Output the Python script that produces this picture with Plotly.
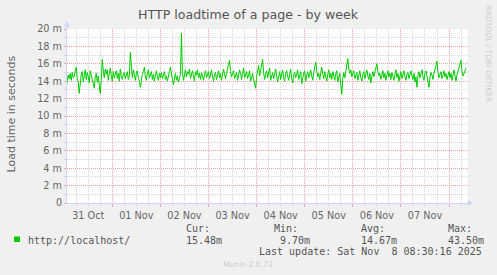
import plotly.graph_objects as go
import pandas as pd

# ---------------- data ----------------
chart_title = "HTTP loadtime of a page - by week"
y_axis_title = "Load time in seconds"
series_name = "http://localhost/"
series_start = "2025-10-31 01:00"      # first sample (30-minute samples)
x_range = ["2025-10-31 01:24", "2025-11-08 09:28"]
day_tick0 = "2025-10-31 00:00"

# load time in milliseconds, one value per 30 minutes
load_ms = [
    13.3, 14.2, 14.7, 14.3, 14.9, 14.1, 15.0, 14.4, 14.6, 15.2, 15.6, 14.3, 13.9, 12.6, 14.1, 14.8, 15.1, 13.9, 14.7, 15.3,
    14.2, 15.0, 14.5, 13.8, 15.2, 14.6, 14.1, 13.7, 13.2, 14.5, 14.9, 13.9, 14.6, 13.5, 12.6, 14.2, 16.5, 15.2, 14.4, 15.4,
    14.8, 15.3, 14.1, 14.9, 15.5, 14.6, 14.0, 15.1, 14.4, 14.8, 15.2, 14.3, 14.9, 14.0, 15.4, 14.5, 14.2, 14.8, 15.0, 14.3,
    14.7, 15.1, 14.2, 14.6, 17.3, 15.0, 14.4, 15.3, 14.6, 14.1, 14.9, 15.2, 14.3, 14.0, 13.3, 14.2, 14.8, 15.1, 15.6, 14.5,
    14.1, 14.9, 15.3, 14.4, 14.7, 15.1, 14.2, 14.8, 14.0, 14.6, 15.2, 14.5, 14.1, 14.9, 14.4, 15.0, 14.3, 14.7, 15.1, 14.2,
    14.6, 14.0, 14.8, 15.1, 15.6, 14.7, 14.2, 13.6, 14.4, 14.9, 14.1, 14.6, 13.9, 14.3, 14.8, 19.5, 15.0, 14.1, 14.7, 15.3,
    14.5, 15.1, 14.8, 15.4, 14.3, 14.9, 15.2, 14.6, 14.0, 15.1, 14.7, 15.3, 14.4, 14.9, 14.2, 15.0, 14.6, 14.1, 14.8, 15.2,
    14.4, 14.9, 15.1, 14.3, 14.7, 15.3, 14.5, 14.0, 14.8, 15.0, 14.2, 14.6, 15.2, 14.4, 14.9, 14.1, 14.7, 15.4, 14.8, 14.3,
    14.9, 15.3, 15.8, 16.4, 15.1, 14.5, 14.9, 15.2, 14.3, 14.7, 15.0, 14.1, 14.6, 15.3, 14.8, 14.2, 14.9, 15.5, 14.4, 14.8,
    15.1, 14.3, 14.7, 15.2, 14.0, 14.6, 14.9, 14.2, 13.8, 13.2, 14.5, 15.1, 15.8, 14.6, 15.3, 15.9, 16.5, 15.0, 14.2, 14.8,
    15.2, 14.4, 14.9, 15.5, 14.1, 14.7, 15.0, 14.3, 14.8, 15.4, 14.6, 13.9, 14.5, 15.1, 14.2, 14.8, 15.3, 14.4, 14.0, 14.9,
    15.2, 14.6, 14.1, 14.8, 15.4, 14.3, 13.8, 14.7, 15.0, 14.4, 14.9, 15.3, 14.2, 14.6, 15.1, 13.7, 14.5, 14.9, 15.2, 14.0,
    14.7, 15.1, 14.4, 14.9, 15.3, 14.6, 14.1, 15.0, 15.7, 16.2, 15.2, 14.5, 14.9, 14.2, 15.0, 15.6, 14.8, 14.3, 15.1, 14.6,
    14.0, 14.8, 15.3, 14.4, 14.9, 14.2, 15.1, 14.6, 14.1, 14.8, 15.2, 13.9, 14.5, 14.9, 13.6, 12.5, 14.3, 15.0, 14.4, 15.3,
    15.8, 16.6, 15.4, 14.9, 15.3, 14.5, 14.9, 15.2, 14.3, 14.8, 15.0, 14.1, 14.7, 15.2, 14.4, 14.0, 14.8, 15.1, 14.3, 14.7,
    15.3, 14.6, 14.2, 14.9, 13.8, 14.6, 15.1, 14.5, 15.0, 15.4, 16.0, 15.1, 14.6, 14.9, 14.2, 14.7, 15.2, 14.4, 14.9, 14.1,
    14.7, 15.2, 14.5, 14.9, 14.2, 15.0, 14.6, 14.1, 14.8, 15.3, 14.4, 14.9, 14.0, 14.7, 15.1, 14.3, 14.8, 15.2, 14.5, 14.1,
    14.8, 15.0, 14.3, 14.7, 15.2, 14.6, 14.2, 14.9, 13.9, 14.5, 13.3, 14.6, 15.1, 14.4, 14.8, 15.3, 14.5, 14.1, 14.9, 15.2,
    14.6, 14.0, 13.3, 14.5, 15.0, 14.7, 14.2, 14.9, 15.3, 15.8, 16.3, 15.0, 14.4, 14.8, 15.1, 14.3, 14.7, 15.2, 14.5, 14.9,
    14.2, 14.8, 15.1, 14.4, 14.9, 14.1, 14.7, 15.3, 14.6, 14.0, 14.8, 15.2, 15.6, 15.9, 16.4, 15.1, 14.6, 14.9, 15.2, 15.5,
]

y_major_ms = [0, 2, 4, 6, 8, 10, 12, 14, 16, 18, 20]
y_major_text = ["0", "2 m", "4 m", "6 m", "8 m", "10 m", "12 m", "14 m", "16 m", "18 m", "20 m"]
y_minor_ms = [1, 3, 5, 7, 9, 11, 13, 15, 17, 19]

legend_heads = ["Cur:", "Min:", "Avg:", "Max:"]
legend_values = ["15.48m", "9.70m", "14.67m", "43.50m"]
last_update = "Last update: Sat Nov  8 08:30:16 2025"
footer = "Munin 2.0.73"
watermark = "RRDTOOL / TOBI OETIKER"

# ---------------- style / layout ----------------
W, H = 497, 275
L, R, T, B = 67, 29, 29, 72
PW, PH = W - L - R, H - T - B
PB = H - B


def px2x(px):
    return (px - L) / PW


def py2y(py):
    return (PB - py) / PH


LINE_GREEN = "#00CC00"
AXIS_BLUE = "#CFD6F8"
MGRID = "#F2A3A3"
GRID = "#D6D6D6"
FONT = "#666666"
SANS = "DejaVu Sans"
MONO = "DejaVu Sans Mono"

times = pd.date_range(series_start, periods=len(load_ms), freq="30min")
yvals = [v / 1000.0 for v in load_ms]

fig = go.Figure()
fig.add_trace(go.Scatter(
    x=times, y=yvals, mode="lines",
    line=dict(color=LINE_GREEN, width=1),
    name=series_name, showlegend=False, hoverinfo="skip",
))

fig.update_layout(
    width=W, height=H,
    margin=dict(l=L, r=R, t=T, b=B, pad=0),
    paper_bgcolor="#F0F0F0",
    plot_bgcolor="#FFFFFF",
    showlegend=False,
    font=dict(family=SANS, size=10, color=FONT),
)

fig.update_xaxes(
    type="date",
    range=x_range,
    tick0=day_tick0,
    dtick=86400000,
    tickformat="%d %b",
    ticklabelmode="period",
    showgrid=True, gridcolor=MGRID, griddash="1px,1px", gridwidth=1,
    ticks="outside", ticklen=3, tickcolor=MGRID, tickwidth=1,
    showline=True, linecolor=AXIS_BLUE, linewidth=1,
    zeroline=False,
    tickfont=dict(family=SANS, size=9.7, color=FONT),
    minor=dict(dtick=21600000, tick0=day_tick0, showgrid=True, gridcolor=GRID,
               griddash="1px,1px", gridwidth=1, ticks="outside", ticklen=2, tickcolor=GRID),
    fixedrange=True,
)

fig.update_yaxes(
    range=[0, 0.02],
    tickmode="array",
    tickvals=[v / 1000.0 for v in y_major_ms],
    ticktext=y_major_text,
    showgrid=True, gridcolor=MGRID, griddash="1px,1px", gridwidth=1,
    ticks="outside", ticklen=2, tickcolor=MGRID, tickwidth=1,
    showline=True, linecolor=AXIS_BLUE, linewidth=1,
    zeroline=False,
    tickfont=dict(family=SANS, size=9.7, color=FONT),
    minor=dict(tickmode="array", tickvals=[v / 1000.0 for v in y_minor_ms],
               showgrid=True, gridcolor=GRID, griddash="1px,1px", gridwidth=1,
               ticks="outside", ticklen=2, tickcolor=GRID),
    fixedrange=True,
)

shapes = [
    # y-axis stem + arrow
    dict(type="line", xref="paper", yref="paper", xsizemode="pixel", ysizemode="pixel",
         xanchor=0, yanchor=1, x0=0, x1=0, y0=0, y1=3, line=dict(color=AXIS_BLUE, width=1), layer="above"),
    dict(type="path", xref="paper", yref="paper", xsizemode="pixel", ysizemode="pixel",
         xanchor=0, yanchor=1, path="M-2.5,2.5 L2.5,2.5 L0,7.5 Z",
         fillcolor=AXIS_BLUE, line=dict(color=AXIS_BLUE, width=0.5), layer="above"),
    # x-axis arrow
    dict(type="path", xref="paper", yref="paper", xsizemode="pixel", ysizemode="pixel",
         xanchor=1, yanchor=0, path="M0,-2.5 L0,2.5 L5,0 Z",
         fillcolor=AXIS_BLUE, line=dict(color=AXIS_BLUE, width=0.5), layer="above"),
    # legend colour square
    dict(type="rect", xref="paper", yref="paper",
         x0=px2x(14), x1=px2x(20), y0=py2y(242), y1=py2y(236.5),
         fillcolor=LINE_GREEN, line=dict(width=0)),
]
fig.update_layout(shapes=shapes)

ann = []


def add_text(text, px, py, size, color, family, xanchor="left", angle=0):
    ann.append(dict(text=text, x=px2x(px), y=py2y(py), xref="paper", yref="paper",
                    xanchor=xanchor, yanchor="middle", showarrow=False, textangle=angle,
                    font=dict(family=family, size=size, color=color), borderpad=0))


add_text(chart_title, 248, 14.5, 12.6, "#555555", SANS, xanchor="center")
add_text(y_axis_title, 10.5, 114, 11, FONT, SANS, xanchor="center", angle=-90)
add_text(watermark, 488, 53.5, 7.5, "#CCCCCC", SANS, xanchor="center", angle=90)

add_text(series_name, 27, 240, 10, "#555555", MONO)
head_x = [185, 273, 360, 447]
val_x = [185, 279, 360, 447]
for hx, vx, h, v in zip(head_x, val_x, legend_heads, legend_values):
    add_text(h, hx, 228, 10, "#555555", MONO)
    add_text(v, vx, 240, 10, "#555555", MONO)
add_text(last_update, 483, 251.3, 10, "#555555", MONO, xanchor="right")
add_text(footer, 248, 264.5, 7.6, "#CCCCCC", SANS, xanchor="center")

fig.update_layout(annotations=ann)

fig.write_html("out.html", config=dict(displayModeBar=False, staticPlot=True))
